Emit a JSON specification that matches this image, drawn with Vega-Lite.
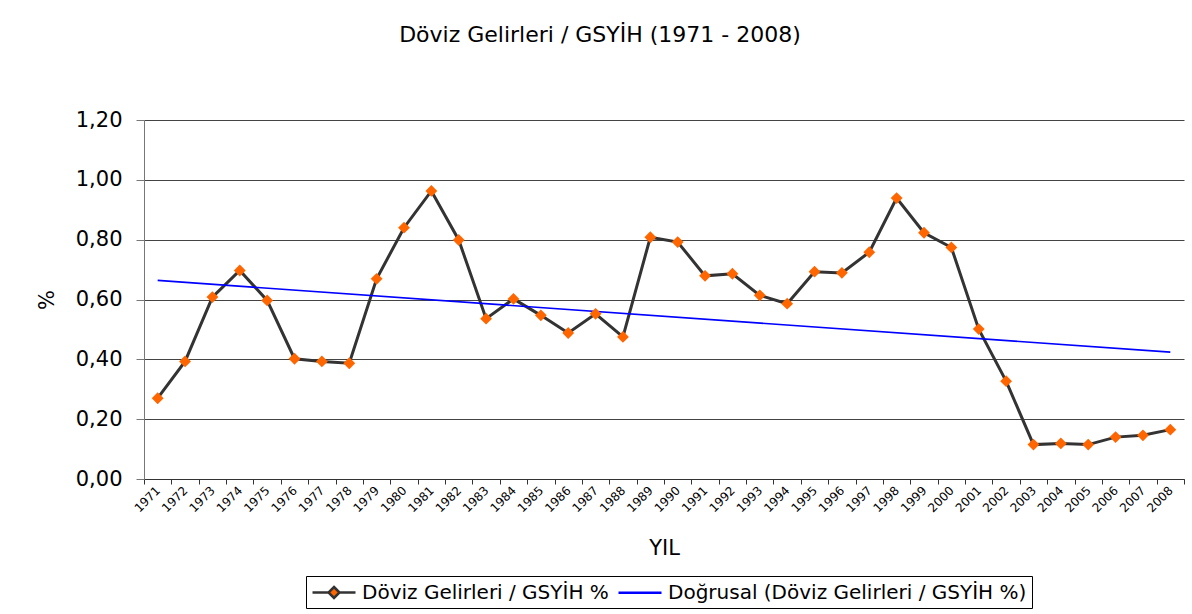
{
  "$schema": "https://vega.github.io/schema/vega-lite/v6.json",
  "width": 1040,
  "height": 359,
  "autosize": "none",
  "padding": {"left": 144, "top": 120, "right": 8, "bottom": 135},
  "background": "white",
  "config": {
    "font": "DejaVu Sans",
    "view": {"stroke": null}
  },
  "title": {
    "text": "Döviz Gelirleri / GSYİH (1971 - 2008)",
    "frame": "group",
    "anchor": "middle",
    "dx": -64,
    "fontSize": 22,
    "fontWeight": "normal",
    "font": "DejaVu Sans",
    "color": "black",
    "baseline": "alphabetic",
    "offset": 45
  },
  "datasets": {
    "main": [
      {"Year": "1971", "value": 0.270, "series": "Döviz Gelirleri / GSYİH %"},
      {"Year": "1972", "value": 0.393, "series": "Döviz Gelirleri / GSYİH %"},
      {"Year": "1973", "value": 0.608, "series": "Döviz Gelirleri / GSYİH %"},
      {"Year": "1974", "value": 0.697, "series": "Döviz Gelirleri / GSYİH %"},
      {"Year": "1975", "value": 0.597, "series": "Döviz Gelirleri / GSYİH %"},
      {"Year": "1976", "value": 0.402, "series": "Döviz Gelirleri / GSYİH %"},
      {"Year": "1977", "value": 0.393, "series": "Döviz Gelirleri / GSYİH %"},
      {"Year": "1978", "value": 0.387, "series": "Döviz Gelirleri / GSYİH %"},
      {"Year": "1979", "value": 0.669, "series": "Döviz Gelirleri / GSYİH %"},
      {"Year": "1980", "value": 0.840, "series": "Döviz Gelirleri / GSYİH %"},
      {"Year": "1981", "value": 0.963, "series": "Döviz Gelirleri / GSYİH %"},
      {"Year": "1982", "value": 0.799, "series": "Döviz Gelirleri / GSYİH %"},
      {"Year": "1983", "value": 0.536, "series": "Döviz Gelirleri / GSYİH %"},
      {"Year": "1984", "value": 0.602, "series": "Döviz Gelirleri / GSYİH %"},
      {"Year": "1985", "value": 0.547, "series": "Döviz Gelirleri / GSYİH %"},
      {"Year": "1986", "value": 0.488, "series": "Döviz Gelirleri / GSYİH %"},
      {"Year": "1987", "value": 0.552, "series": "Döviz Gelirleri / GSYİH %"},
      {"Year": "1988", "value": 0.475, "series": "Döviz Gelirleri / GSYİH %"},
      {"Year": "1989", "value": 0.808, "series": "Döviz Gelirleri / GSYİH %"},
      {"Year": "1990", "value": 0.792, "series": "Döviz Gelirleri / GSYİH %"},
      {"Year": "1991", "value": 0.679, "series": "Döviz Gelirleri / GSYİH %"},
      {"Year": "1992", "value": 0.686, "series": "Döviz Gelirleri / GSYİH %"},
      {"Year": "1993", "value": 0.614, "series": "Döviz Gelirleri / GSYİH %"},
      {"Year": "1994", "value": 0.586, "series": "Döviz Gelirleri / GSYİH %"},
      {"Year": "1995", "value": 0.693, "series": "Döviz Gelirleri / GSYİH %"},
      {"Year": "1996", "value": 0.689, "series": "Döviz Gelirleri / GSYİH %"},
      {"Year": "1997", "value": 0.758, "series": "Döviz Gelirleri / GSYİH %"},
      {"Year": "1998", "value": 0.939, "series": "Döviz Gelirleri / GSYİH %"},
      {"Year": "1999", "value": 0.823, "series": "Döviz Gelirleri / GSYİH %"},
      {"Year": "2000", "value": 0.774, "series": "Döviz Gelirleri / GSYİH %"},
      {"Year": "2001", "value": 0.501, "series": "Döviz Gelirleri / GSYİH %"},
      {"Year": "2002", "value": 0.327, "series": "Döviz Gelirleri / GSYİH %"},
      {"Year": "2003", "value": 0.115, "series": "Döviz Gelirleri / GSYİH %"},
      {"Year": "2004", "value": 0.119, "series": "Döviz Gelirleri / GSYİH %"},
      {"Year": "2005", "value": 0.115, "series": "Döviz Gelirleri / GSYİH %"},
      {"Year": "2006", "value": 0.140, "series": "Döviz Gelirleri / GSYİH %"},
      {"Year": "2007", "value": 0.146, "series": "Döviz Gelirleri / GSYİH %"},
      {"Year": "2008", "value": 0.165, "series": "Döviz Gelirleri / GSYİH %"}
    ],
    "trend": [
      {"Year": "1971", "value": 0.664, "series": "Doğrusal (Döviz Gelirleri / GSYİH %)"},
      {"Year": "2008", "value": 0.424, "series": "Doğrusal (Döviz Gelirleri / GSYİH %)"}
    ]
  },
  "encoding": {
    "x": {
      "field": "Year",
      "type": "ordinal",
      "bandPosition": 0.5,
      "scale": {"type": "band", "paddingInner": 0, "paddingOuter": 0},
      "axis": {
        "title": "YIL",
        "titleFontSize": 21,
        "titleFontWeight": "normal",
        "titleColor": "black",
        "titlePadding": 24,
        "labelAngle": -45,
        "labelAlign": "right",
        "labelBaseline": "middle",
        "labelFontSize": 12,
        "labelColor": "black",
        "labelPadding": 4,
        "tickBand": "extent",
        "tickSize": 5,
        "tickColor": "#333333",
        "domainColor": "#333333",
        "grid": false
      }
    },
    "y": {
      "field": "value",
      "type": "quantitative",
      "scale": {"domain": [0, 1.2], "nice": false, "zero": true},
      "axis": {
        "values": [0, 0.2, 0.4, 0.6, 0.8, 1.0, 1.2],
        "labelExpr": "replace(format(datum.value, '.2f'), '.', ',')",
        "title": "%",
        "titleFontSize": 21,
        "titleFontWeight": "normal",
        "titleColor": "black",
        "titlePadding": 18,
        "labelFontSize": 21,
        "labelColor": "black",
        "labelPadding": 14,
        "tickSize": 8,
        "tickColor": "#777777",
        "domainColor": "#777777",
        "grid": true,
        "gridColor": "#444444",
        "gridWidth": 1
      }
    }
  },
  "layer": [
    {
      "data": {"name": "main"},
      "mark": {"type": "line", "strokeWidth": 3},
      "encoding": {
        "stroke": {
          "field": "series",
          "type": "nominal",
          "scale": {
            "domain": ["Döviz Gelirleri / GSYİH %", "Doğrusal (Döviz Gelirleri / GSYİH %)"],
            "range": ["#333333", "#0000ff"]
          },
          "legend": {
            "title": null,
            "orient": "none",
            "legendX": 162,
            "legendY": 456,
            "direction": "horizontal",
            "strokeColor": "black",
            "padding": 5,
            "labelFont": "DejaVu Sans",
            "labelFontSize": 20,
            "labelColor": "black",
            "labelLimit": 700,
            "labelOffset": 28,
            "columnPadding": 4,
            "symbolSize": 400,
            "symbolStrokeWidth": 2.5,
            "encode": {
              "symbols": {
                "update": {
                  "shape": {"signal": "datum.index === 0 ? 'M-1,0H0.65M1.65,0H3.3M1.15,-0.55L1.7,0L1.15,0.55L0.6,0Z' : 'M-1,0H3.3'"},
                  "fill": {"signal": "datum.index === 0 ? '#ff6600' : 'transparent'"}
                }
              }
            }
          }
        }
      }
    },
    {
      "data": {"name": "trend"},
      "mark": {"type": "line", "strokeWidth": 1.6},
      "encoding": {
        "stroke": {"field": "series", "type": "nominal"}
      }
    },
    {
      "data": {"name": "main"},
      "mark": {"type": "point", "shape": "diamond", "filled": true, "size": 140, "color": "#ff6600", "opacity": 1}
    }
  ]
}
